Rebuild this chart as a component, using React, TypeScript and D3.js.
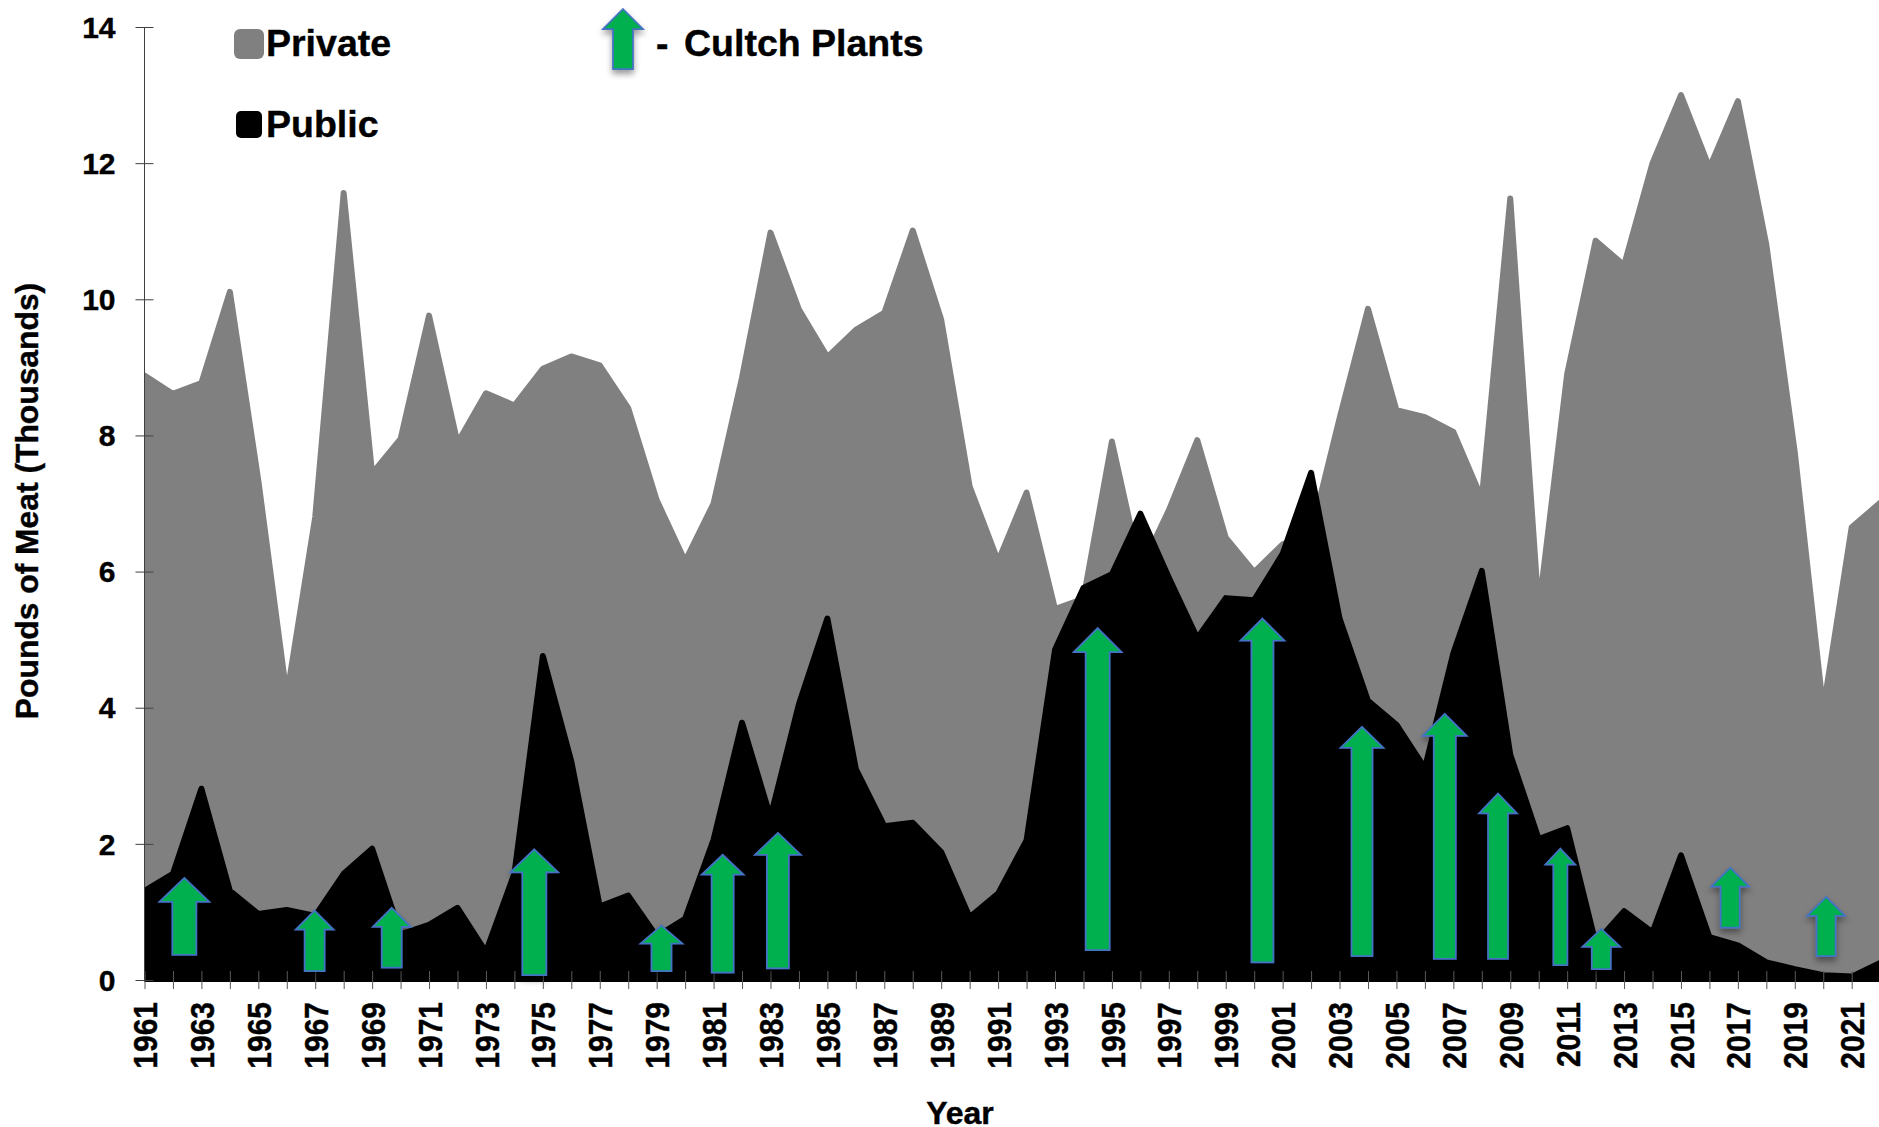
import React, { useEffect, useRef } from "react";
import * as d3 from "d3";

const startYear = 1961;
const privateValues = [8.88, 8.61, 8.77, 10.11, 7.34, 4.17, 6.8, 11.56, 7.44, 7.95, 9.76, 7.89, 8.62, 8.44, 8.98, 9.16, 9.03, 8.4, 7.05, 6.15, 7.0, 8.85, 10.98, 9.85, 9.15, 9.55, 9.8, 11.01, 9.7, 7.25, 6.15, 7.16, 5.45, 5.6, 7.91, 6.02, 6.9, 7.93, 6.5, 5.99, 6.4, 6.55, 8.25, 9.86, 8.37, 8.27, 8.05, 7.07, 11.48, 5.43, 8.9, 10.86, 10.5, 12.0, 13.0, 11.93, 12.91, 10.8, 7.75, 3.97, 6.65, 7.01];
const publicValues = [1.31, 1.56, 2.81, 1.31, 0.97, 1.03, 0.94, 1.56, 1.93, 0.67, 0.81, 1.06, 0.41, 1.56, 4.76, 3.21, 1.08, 1.24, 0.64, 0.9, 2.06, 3.78, 2.39, 4.05, 5.31, 3.1, 2.26, 2.31, 1.88, 0.92, 1.27, 2.05, 4.85, 5.76, 5.96, 6.85, 5.91, 5.02, 5.61, 5.58, 6.26, 7.45, 5.31, 4.1, 3.75, 3.11, 4.8, 6.01, 3.31, 2.07, 2.23, 0.54, 1.01, 0.7, 1.83, 0.63, 0.51, 0.26, 0.16, 0.07, 0.05, 0.25];
const yTicks = [0, 2, 4, 6, 8, 10, 12, 14];
const years = privateValues.map((_, i) => startYear + i);
const cultchYears = [1962.4, 1966.98, 1969.69, 1974.7, 1979.17, 1981.32, 1983.26, 1994.5, 2000.29, 2003.79, 2006.7, 2008.57, 2010.76, 2012.2, 2016.73, 2020.1];
const cultchTop = [1.5, 1.02, 1.06, 1.92, 0.8, 1.84, 2.16, 5.17, 5.31, 3.72, 3.91, 2.74, 1.93, 0.75, 1.65, 1.22];
const cultchBase = [0.37, 0.13, 0.18, 0.07, 0.13, 0.11, 0.17, 0.44, 0.26, 0.35, 0.31, 0.31, 0.22, 0.16, 0.77, 0.35];

// Arrow shape: [head width, shaft width, head height] in px
const arrowShapes = [[50, 24, 24], [38, 20, 19], [38, 20, 19], [48, 24, 23], [42, 20, 18], [42, 22, 20], [46, 22, 22], [48, 24, 24], [44, 22, 22], [43, 21, 21], [44, 22, 22], [38, 20, 20], [30, 14, 16], [38, 19, 18], [38, 19, 19], [38, 19, 19]];

const FONT = "'Liberation Sans', Arial, sans-serif";
const xPos = d3.scaleLinear().domain([1961, 2021]).range([144.5, 1851.7]);
const yPos = d3.scaleLinear().domain([0, 14]).range([980, 27]);

function arrowPath(cx: number, top: number, bottom: number, hw: number, sw: number, hh: number) {
  const p = d3.path();
  p.moveTo(cx, top);
  p.lineTo(cx + hw / 2, top + hh);
  p.lineTo(cx + sw / 2, top + hh);
  p.lineTo(cx + sw / 2, bottom);
  p.lineTo(cx - sw / 2, bottom);
  p.lineTo(cx - sw / 2, top + hh);
  p.lineTo(cx - hw / 2, top + hh);
  p.closePath();
  return p.toString();
}

export default function App() {
  const xRef = useRef<SVGGElement>(null);
  const yRef = useRef<SVGGElement>(null);

  useEffect(() => {
    const gx = d3.select(xRef.current!);
    gx.call(
      d3.axisBottom(xPos)
        .tickValues(years.slice(0, 61))
        .tickFormat((d: any) => ((+d - startYear) % 2 === 0 ? String(d) : ""))
        .tickSize(9) as any
    );
    gx.select(".domain").remove();
    gx.selectAll(".tick line").attr("y1", -9).attr("y2", 9).attr("stroke", "#595959").attr("stroke-width", 1);
    gx.selectAll(".tick text")
      .attr("transform", "rotate(-90) scale(1,1.12)")
      .attr("text-anchor", "end")
      .attr("x", -22)
      .attr("y", 0)
      .attr("dy", "0.36em")
      .attr("fill", "#000")
      .attr("stroke", "#000")
      .attr("stroke-width", 0.4)
      .style("font", `bold 30px ${FONT}`);

    const gy = d3.select(yRef.current!);
    gy.call(d3.axisLeft(yPos).tickValues(yTicks).tickFormat((d: any) => String(d)).tickSize(9) as any);
    gy.select(".domain").attr("d", `M0,${yPos(14)}V${yPos(0)}`).attr("stroke", "#404040").attr("stroke-width", 1);
    gy.selectAll(".tick line").attr("x1", -9).attr("x2", 9).attr("stroke", "#404040").attr("stroke-width", 1);
    gy.selectAll(".tick text")
      .attr("x", -29)
      .attr("dy", "0.34em")
      .attr("fill", "#000")
      .attr("stroke", "#000")
      .attr("stroke-width", 0.4)
      .style("font", `bold 30px ${FONT}`);
  }, []);

  const area = (vals: number[]) =>
    d3.area<number>()
      .x((_, i) => xPos(years[i]))
      .y0(yPos(0) - 1)
      .y1((d) => yPos(d))(vals) as string;

  return (
    <svg
      width={1879}
      height={1127}
      style={{ position: "absolute", left: 0, top: 0, display: "block", background: "#fff" }}
    >
      <defs>
        <clipPath id="plot">
          <rect x={144.5} y={0} width={1740} height={982} />
        </clipPath>
        <filter id="shadow" x="-50%" y="-20%" width="200%" height="140%">
          <feDropShadow dx={0} dy={4} stdDeviation={3} floodColor="#000" floodOpacity={0.4} />
        </filter>
      </defs>

      <g clipPath="url(#plot)" strokeLinejoin="round" strokeWidth={6}>
        <path d={area(privateValues)} fill="#808080" stroke="#808080" />
        <path d={area(publicValues)} fill="#000" stroke="#000" />
      </g>

      <g ref={xRef} transform={`translate(0,${yPos(0)})`} />
      <g ref={yRef} transform={`translate(${xPos(1961)},0)`} />

      <g>
        {cultchYears.map((yr, i) => {
          const [hw, sw, hh] = arrowShapes[i];
          return (
            <path
              key={yr}
              d={arrowPath(xPos(yr), yPos(cultchTop[i]), yPos(cultchBase[i]), hw, sw, hh)}
              fill="#00b050"
              stroke="#4472c4"
              strokeWidth={1.75}
              filter="url(#shadow)"
            />
          );
        })}
      </g>

      <g fontFamily={FONT} fontWeight="bold" fill="#000" stroke="#000" strokeWidth={0.4}>
        <rect x={234} y={29} width={30} height={30} rx={6} fill="#808080" stroke="none" />
        <text x={266} y={56} fontSize={37.5}>Private</text>
        <rect x={236} y={111} width={26} height={27} rx={5} fill="#000" stroke="none" />
        <text x={266} y={137} fontSize={37.5}>Public</text>
        <path d={arrowPath(623, 9, 69, 40, 20, 20)} fill="#00b050" stroke="#4472c4" strokeWidth={1.75} filter="url(#shadow)" />
        <text x={656} y={56} fontSize={37.5}>-</text>
        <text x={684} y={56} fontSize={37.5}>Cultch Plants</text>
        <text transform="translate(38,501) rotate(-90)" textAnchor="middle" fontSize={31.8}>Pounds of Meat (Thousands)</text>
        <text x={960} y={1124} textAnchor="middle" fontSize={32}>Year</text>
      </g>
    </svg>
  );
}
